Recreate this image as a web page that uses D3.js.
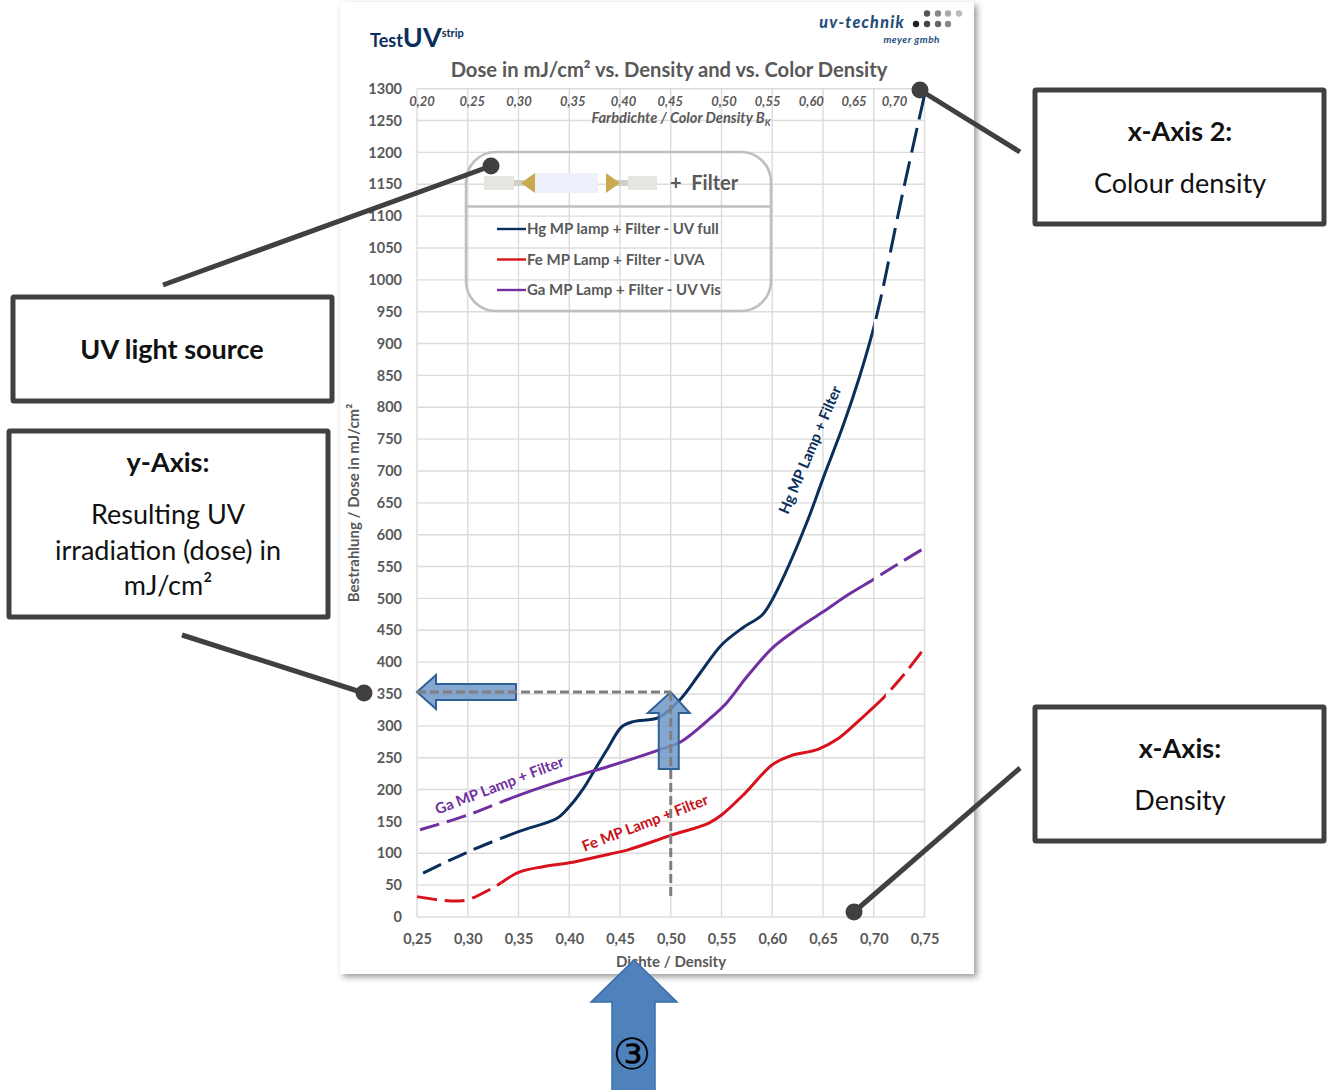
<!DOCTYPE html>
<html>
<head>
<meta charset="utf-8">
<script src="https://cdnjs.cloudflare.com/ajax/libs/d3/7.8.5/d3.min.js"></script>
<style>
  body { margin: 0; background: #fff; }
  svg { display: block; font-family: Lato, sans-serif; }
  .tick text { fill: #595959; font-weight: 700; }
  .callout { font-size: 27px; fill: #111; text-anchor: middle; }
</style>
</head>
<body>
<svg class="chart" width="1329" height="1090"></svg>
<script>
// Density ticks and dose ticks
const densityTicks = [0.25, 0.30, 0.35, 0.40, 0.45, 0.50, 0.55, 0.60, 0.65, 0.70, 0.75];
const doseTicks = d3.range(0, 1301, 50);

// Second x axis: colour density labels and the density they sit at
const colorDensity = [0.20, 0.25, 0.30, 0.35, 0.40, 0.45, 0.50, 0.55, 0.60, 0.65, 0.70];
const colorDensityAt = [0.2545, 0.304, 0.350, 0.403, 0.453, 0.499, 0.552, 0.595, 0.638, 0.680, 0.720];

// Curves, [density, dose]
const hgCurve = [[0.256,69],[0.30,102],[0.35,134],[0.388,155],[0.40,173],[0.414,202],[0.424,228],[0.437,262],[0.452,299],[0.464,307],[0.488,313],[0.509,341],[0.529,383],[0.55,427],[0.571,454],[0.59,474],[0.60,498],[0.613,540],[0.635,623],[0.65,688],[0.67,772],[0.686,848],[0.70,925],[0.708,979],[0.727,1125],[0.75,1290]];
const feCurve = [[0.25,32],[0.271,27],[0.29,25],[0.30,27],[0.324,45],[0.35,70],[0.374,79],[0.40,85],[0.44,99],[0.457,105],[0.50,128],[0.537,147],[0.55,160],[0.573,194],[0.60,239],[0.618,253],[0.645,263],[0.665,280],[0.686,309],[0.712,348],[0.731,383],[0.75,422]];
const gaCurve = [[0.253,137],[0.30,160],[0.35,191],[0.40,218],[0.44,237],[0.488,262],[0.51,275],[0.539,312],[0.555,336],[0.575,377],[0.60,422],[0.621,448],[0.65,479],[0.677,508],[0.70,530],[0.725,555],[0.75,579]];

const navy = "#0b2f5b", red = "#d8121c", purple = "#7030a0";

const svg = d3.select(".chart");

// Sheet of paper with its shadow
const defs = svg.append("defs");
const shadow = defs.append("filter").attr("id", "paperShadow")
    .attr("x", "-5%").attr("y", "-5%").attr("width", "110%").attr("height", "110%");
shadow.append("feDropShadow").attr("dx", 3).attr("dy", 3).attr("stdDeviation", 3)
    .attr("flood-color", "#000").attr("flood-opacity", 0.4);
defs.append("filter").attr("id", "soft").append("feGaussianBlur").attr("stdDeviation", 0.7);
svg.append("rect").attr("x", 340).attr("y", 2).attr("width", 634).attr("height", 972)
    .attr("fill", "#fff").attr("filter", "url(#paperShadow)");

const x = d3.scaleLinear().domain([0.25, 0.75]).range([417, 924.5]);
const y = d3.scaleLinear().domain([0, 1300]).range([917, 88.7]);
const xTop = d3.scaleLinear().domain(colorDensity).range(colorDensityAt.map(d => x(d)));
const comma = d => d3.format(".2f")(d).replace(".", ",");

// Grid
svg.append("g").selectAll("line").data(densityTicks).enter().append("line")
    .attr("x1", d => x(d)).attr("x2", d => x(d))
    .attr("y1", y(1300)).attr("y2", y(0))
    .attr("stroke", "#dcdcdc").attr("stroke-width", 1.4);
svg.append("g").selectAll("line").data(doseTicks).enter().append("line")
    .attr("x1", x(0.25)).attr("x2", x(0.75))
    .attr("y1", d => y(d)).attr("y2", d => y(d))
    .attr("stroke", "#dcdcdc").attr("stroke-width", 1.4);

// Axes
const axisLeft = svg.append("g").attr("transform", `translate(${x(0.25)},0)`)
    .call(d3.axisLeft(y).tickValues(doseTicks).tickFormat(d3.format("d")).tickSize(0).tickPadding(15));
const axisBottom = svg.append("g").attr("transform", `translate(0,${y(0)})`)
    .call(d3.axisBottom(x).tickValues(densityTicks).tickFormat(comma).tickSize(0).tickPadding(17));
const axisTop = svg.append("g").attr("transform", `translate(0,${y(1300) + 17})`)
    .call(d3.axisTop(xTop).tickValues(colorDensity).tickFormat(comma).tickSize(0).tickPadding(0));
[axisLeft, axisBottom, axisTop].forEach(a => a.select(".domain").remove());
axisLeft.selectAll("text").style("font-size", "14.5px").style("font-family", "Lato");
axisBottom.selectAll("text").style("font-size", "14.5px").style("font-family", "Lato");
axisTop.selectAll("text").style("font-size", "13px").style("font-family", "Lato").style("font-style", "italic");

// Axis titles
svg.append("text").attr("x", 671).attr("y", 967).attr("text-anchor", "middle")
    .attr("font-size", 15).attr("font-weight", 700).attr("fill", "#595959").text("Dichte / Density");
svg.append("text").attr("transform", "translate(359,503) rotate(-90)").attr("text-anchor", "middle")
    .attr("font-size", 15).attr("font-weight", 700).attr("fill", "#595959").text("Bestrahlung / Dose in mJ/cm²");
const colorTitle = svg.append("text").attr("x", 681).attr("y", 123).attr("text-anchor", "middle")
    .attr("font-size", 14.6).attr("font-weight", 700).attr("font-style", "italic").attr("fill", "#595959")
    .text("Farbdichte / Color Density B");
colorTitle.append("tspan").attr("font-size", 9).attr("dy", 3).text("K");
svg.append("text").attr("x", 669).attr("y", 77).attr("text-anchor", "middle")
    .attr("font-size", 20.2).attr("font-weight", 700).attr("fill", "#595959")
    .text("Dose in mJ/cm² vs. Density and vs. Color Density");

// Header: TestUV strip on the left, logo on the right
const brand = svg.append("text").attr("x", 370).attr("y", 47).attr("fill", navy).attr("font-weight", 700);
brand.append("tspan").attr("font-size", 18).text("Test");
brand.append("tspan").attr("font-size", 27).text("UV");
brand.append("tspan").attr("font-size", 11).attr("dy", -10).text("strip");
svg.append("text").attr("x", 905).attr("y", 28).attr("text-anchor", "end")
    .attr("font-size", 16).attr("font-weight", 900).attr("font-style", "italic").attr("fill", "#1f4e79")
    .attr("letter-spacing", 1.3).text("uv-technik");
svg.append("text").attr("x", 940).attr("y", 43).attr("text-anchor", "end")
    .attr("font-size", 10).attr("font-weight", 700).attr("font-style", "italic").attr("fill", "#1f4e79")
    .attr("letter-spacing", 0.5).text("meyer gmbh");
const logoDots = [[927,13.5,"#555"],[938,13.5,"#888"],[948,13.5,"#aaa"],[959,13.5,"#bbb"],[916,24,"#222"],[927,24,"#444"],[938,24,"#666"],[948,24,"#888"]];
svg.append("g").selectAll("circle").data(logoDots).enter().append("circle")
    .attr("cx", d => d[0]).attr("cy", d => d[1]).attr("r", 3.2).attr("fill", d => d[2]);

// Curves: solid middle, dashed ends
const line = d3.line().x(d => x(d[0])).y(d => y(d[1])).curve(d3.curveCatmullRom.alpha(0.5));
function addClip(id, from, to) {
    defs.append("clipPath").attr("id", id).append("rect")
        .attr("x", x(from)).attr("width", x(to) - x(from))
        .attr("y", y(1300) - 5).attr("height", y(0) - y(1300) + 10);
}
const curves = [
    { id: "hg", pts: hgCurve, color: navy, solid: [0.332, 0.70], highDash: "25 9" },
    { id: "fe", pts: feCurve, color: red, solid: [0.333, 0.712], highDash: "20 8" },
    { id: "ga", pts: gaCurve, color: purple, solid: [0.332, 0.70], highDash: "20 8" }
];
curves.forEach(c => {
    addClip(c.id + "Solid", c.solid[0], c.solid[1]);
    addClip(c.id + "Low", 0.24, c.solid[0]);
    svg.append("path").datum(c.pts).attr("d", line).attr("fill", "none")
        .attr("stroke", c.color).attr("stroke-width", 3)
        .attr("clip-path", `url(#${c.id}Solid)`);
    svg.append("path").datum(c.pts).attr("d", line).attr("fill", "none")
        .attr("stroke", c.color).attr("stroke-width", 3)
        .attr("stroke-dasharray", "20 8")
        .attr("clip-path", `url(#${c.id}Low)`);
    // upper end starts with a gap, so the offset skips the first dash
    svg.append("path").datum(c.pts.filter(d => d[0] >= c.solid[1])).attr("d", line).attr("fill", "none")
        .attr("stroke", c.color).attr("stroke-width", 3)
        .attr("stroke-dasharray", c.highDash)
        .attr("stroke-dashoffset", +c.highDash.split(" ")[0]);
});

// Labels along the curves
const curveLabels = [
    { text: "Ga MP Lamp + Filter", color: purple, d: 0.333, v: 199, angle: -21 },
    { text: "Fe MP Lamp + Filter", color: "#c8101a", d: 0.4766, v: 140, angle: -21 },
    { text: "Hg MP Lamp + Filter", color: navy, d: 0.642, v: 730, angle: -67 }
];
svg.append("g").selectAll("text").data(curveLabels).enter().append("text")
    .attr("transform", d => `translate(${x(d.d)},${y(d.v)}) rotate(${d.angle})`)
    .attr("text-anchor", "middle").attr("font-size", 15).attr("font-weight", 700)
    .attr("fill", d => d.color).text(d => d.text);

// Legend box
svg.append("rect").attr("x", 466).attr("y", 152).attr("width", 305).attr("height", 159).attr("rx", 30)
    .attr("fill", "none").attr("stroke", "#bfbfbf").attr("stroke-width", 2.6);
svg.append("line").attr("x1", 466).attr("x2", 771).attr("y1", 206.5).attr("y2", 206.5)
    .attr("stroke", "#bfbfbf").attr("stroke-width", 2.4);

// Lamp drawing
const lamp = svg.append("g").attr("filter", "url(#soft)");
lamp.append("rect").attr("x", 484).attr("y", 176).attr("width", 30).attr("height", 14).attr("fill", "#e6e6e0");
lamp.append("rect").attr("x", 514).attr("y", 180).attr("width", 12).attr("height", 6).attr("fill", "#cfcfc6");
lamp.append("rect").attr("x", 535).attr("y", 173).attr("width", 63).attr("height", 20).attr("fill", "#eef0fb");
lamp.append("rect").attr("x", 628).attr("y", 176).attr("width", 29).attr("height", 14).attr("fill", "#e6e6e0");
lamp.append("rect").attr("x", 616).attr("y", 180).attr("width", 12).attr("height", 6).attr("fill", "#cfcfc6");
lamp.append("polygon").attr("points", "521,183 535,173 535,193").attr("fill", "#c9a94e");
lamp.append("polygon").attr("points", "620,183 606,173 606,193").attr("fill", "#c9a94e");
svg.append("text").attr("x", 670).attr("y", 190).attr("font-size", 20).attr("font-weight", 700)
    .attr("fill", "#595959").attr("xml:space", "preserve").text("+  Filter");

// Legend entries
const legendNames = ["Hg MP lamp + Filter - UV full", "Fe MP Lamp + Filter - UVA", "Ga MP Lamp + Filter - UV Vis"];
const legendColors = [navy, red, purple];
const legendY = d3.scalePoint().domain(legendNames).range([229, 290]);
const legend = svg.append("g").selectAll("g").data(legendNames).enter().append("g")
    .attr("transform", d => `translate(0,${legendY(d)})`);
legend.append("line").attr("x1", 497).attr("x2", 526)
    .attr("stroke", (d, i) => legendColors[i]).attr("stroke-width", 2.4);
legend.append("text").attr("x", 527).attr("y", 5).attr("font-size", 15).attr("font-weight", 700)
    .attr("fill", "#595959").text(d => d);

// Reading example: arrows and dashed guides at density 0,50 and about 350 mJ/cm²
const guideD = 0.50, guideV = 353;
const gx = x(guideD), gy = y(guideV);
const arrowFill = "#6f97c7", arrowStroke = "#2f6096";
svg.append("polygon")
    .attr("points", [[x(0.25), gy], [436, gy - 17], [436, gy - 8], [516, gy - 8], [516, gy + 8], [436, gy + 8], [436, gy + 17]].join(" "))
    .attr("fill", arrowFill).attr("fill-opacity", 0.85).attr("stroke", arrowStroke).attr("stroke-width", 2);
svg.append("polygon")
    .attr("points", [[gx, gy], [gx + 19, gy + 21], [gx + 8, gy + 21], [gx + 8, 769], [gx - 12, 769], [gx - 12, gy + 21], [gx - 23, gy + 21]].join(" "))
    .attr("fill", arrowFill).attr("fill-opacity", 0.85).attr("stroke", arrowStroke).attr("stroke-width", 2);
svg.append("line").attr("x1", x(0.25)).attr("x2", gx).attr("y1", gy).attr("y2", gy)
    .attr("stroke", "#7f7f7f").attr("stroke-width", 3).attr("stroke-dasharray", "9 4");
svg.append("line").attr("x1", gx).attr("x2", gx).attr("y1", gy).attr("y2", 898)
    .attr("stroke", "#7f7f7f").attr("stroke-width", 3).attr("stroke-dasharray", "9 4");

// Big arrow at the bottom
svg.append("polygon")
    .attr("points", "634,960 677,1002 655,1002 655,1092 612,1092 612,1002 591,1002")
    .attr("fill", "#4f81bd").attr("stroke", "#3d6da6").attr("stroke-width", 1.5);
svg.append("text").attr("x", 632).attr("y", 1069).attr("text-anchor", "middle")
    .attr("font-size", 43).attr("fill", "#000").style("font-family", "DejaVu Sans").text("③");

// Callouts
const boxes = [[13, 297, 319, 104], [9, 431, 319, 186], [1035, 90, 289, 134], [1035, 707, 289, 134]];
svg.append("g").selectAll("rect").data(boxes).enter().append("rect")
    .attr("x", d => d[0]).attr("y", d => d[1]).attr("width", d => d[2]).attr("height", d => d[3])
    .attr("fill", "#fff").attr("stroke", "#404040").attr("stroke-width", 5).attr("rx", 1);
const calloutText = [
    ["UV light source", 172, 359, 700], ["y-Axis:", 168, 472, 700], ["Resulting UV", 168, 524, 400],
    ["irradiation (dose) in", 168, 560, 400], ["mJ/cm²", 168, 595, 400],
    ["x-Axis 2:", 1180, 141, 700], ["Colour density", 1180, 193, 400],
    ["x-Axis:", 1180, 758, 700], ["Density", 1180, 810, 400]
];
svg.append("g").selectAll("text").data(calloutText).enter().append("text")
    .attr("class", "callout").attr("x", d => d[1]).attr("y", d => d[2])
    .attr("font-weight", d => d[3]).text(d => d[0]);

// Leader lines with a dot on the chart end
const leaders = [[163, 285, 491, 166], [1020, 152, 920, 90], [182, 635, 364, 693], [1020, 768, 854, 912]];
const leader = svg.append("g").selectAll("g").data(leaders).enter().append("g");
leader.append("line").attr("x1", d => d[0]).attr("y1", d => d[1]).attr("x2", d => d[2]).attr("y2", d => d[3])
    .attr("stroke", "#404040").attr("stroke-width", 5);
leader.append("circle").attr("cx", d => d[2]).attr("cy", d => d[3]).attr("r", 8.5).attr("fill", "#404040");
</script>
</body>
</html>
